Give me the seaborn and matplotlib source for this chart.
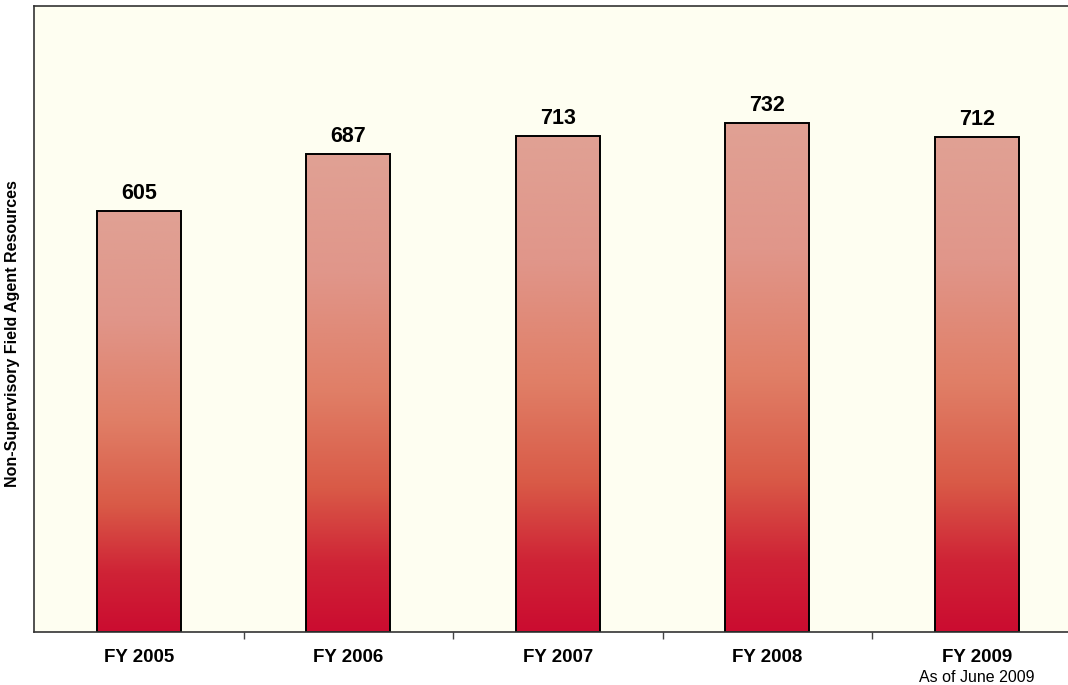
import numpy as np
import pandas as pd
import matplotlib
matplotlib.use("Agg")
import matplotlib.pyplot as plt
from matplotlib.colors import LinearSegmentedColormap
import seaborn as sns

# Data
years = ["FY 2005", "FY 2006", "FY 2007", "FY 2008", "FY 2009"]
agents = [605, 687, 713, 732, 712]
note_2009 = "As of June 2009"

sns.set_theme(style="white")
plt.rcParams["font.family"] = ["Liberation Sans", "DejaVu Sans"]
plt.rcParams["text.color"] = "black"
plt.rcParams["xtick.color"] = "black"
plt.rcParams["axes.labelcolor"] = "black"

df = pd.DataFrame({"year": years, "agents": agents})

fig = plt.figure(figsize=(10.68, 6.85), dpi=100)
ax = fig.add_axes([34 / 1068, 1 - 632 / 685, (1068 - 34) / 1068, (632 - 6) / 685])
ax.set_facecolor("#fefef1")

sns.barplot(data=df, x="year", y="agents", ax=ax, width=0.4,
            color="white", edgecolor="black", linewidth=1.4, saturation=1)

# gradient fill, light salmon at top to crimson at bottom
grad = LinearSegmentedColormap.from_list(
    "bar", [(0.0, "#cb0c30"), (0.14, "#cf2336"), (0.3, "#d95a47"),
            (0.5, "#e07e66"), (0.75, "#e0968a"), (1.0, "#e0a194")])
ramp = np.linspace(0, 1, 256).reshape(-1, 1)
for p in ax.patches:
    x0, y0 = p.get_x(), p.get_y()
    w, h = p.get_width(), p.get_height()
    im = ax.imshow(ramp, cmap=grad, aspect="auto", origin="lower",
                   extent=[x0, x0 + w, y0, y0 + h], zorder=p.get_zorder() - 0.1)
    im.set_clip_path(p)
    p.set_facecolor("none")
    ax.text(x0 + w / 2, h + 10, f"{int(h)}", ha="center", va="bottom",
            fontsize=15.5, fontweight="bold", color="black")

ax.set_xlim(-0.5, -0.5 + (1068 - 34) / 209.5)
ax.set_ylim(0, 900)
ax.set_yticks([])
ax.set_xlabel("")
ax.set_ylabel("Non-Supervisory Field Agent Resources", fontsize=11.5,
              fontweight="bold", color="black")
ax.yaxis.set_label_coords(-0.0135, 0.476)

ax.set_xticks(range(len(years)))
ax.set_xticklabels(years, fontsize=13.5, fontweight="bold", color="black")
ax.tick_params(axis="x", which="major", length=0, pad=12)
ax.set_xticks(np.arange(0.5, len(years) - 0.5, 1.0), minor=True)
ax.tick_params(axis="x", which="minor", length=5, width=1, color="#444444",
               direction="out", bottom=True)
ax.annotate(note_2009, xy=(4, 0), xycoords=("data", "axes fraction"),
            xytext=(0, -32.5), textcoords="offset points", ha="center",
            va="center", fontsize=11.5, color="black")

for side in ["left", "bottom", "top"]:
    ax.spines[side].set_color("#333333")
    ax.spines[side].set_linewidth(1.2)
ax.spines["right"].set_visible(False)

fig.savefig("out.png", dpi=100, facecolor="white")
